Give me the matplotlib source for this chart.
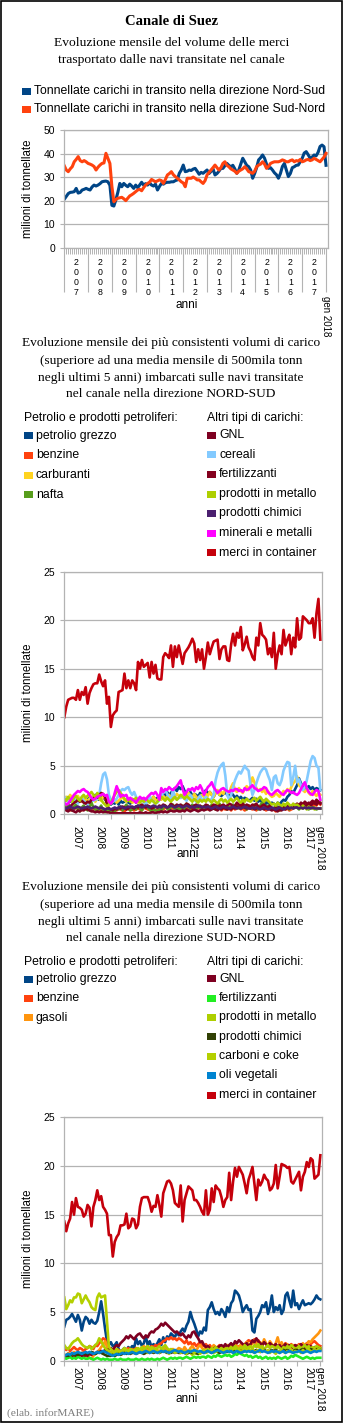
import matplotlib
matplotlib.use('Agg')
import matplotlib.pyplot as plt
from matplotlib.patches import Rectangle
from matplotlib import transforms

# ---------------- DATA ----------------
year_labels = ['2007', '2008', '2009', '2010', '2011', '2012', '2013', '2014', '2015', '2016', '2017']
last_label = 'gen 2018'

# Chart 1: total monthly volume (million tonnes)
tot_nord_sud = [20.6, 21.8, 23, 23.5, 23.6, 23.8, 25.2, 23.2, 23.5, 24.5, 24.8, 25.2,
                24.8, 24.5, 25.8, 26.6, 26.2, 26.6, 27.2, 28, 28.2, 28.3, 28, 26.5,
                18, 17.7, 20.3, 23.5, 27.3, 25.9, 27.3, 26.5, 25.9, 27, 26.2, 25.2,
                26.6, 25.5, 26.6, 27.8, 26.6, 27.2, 26.6, 27.6, 26.6, 26.2, 27, 24.5,
                26, 27.3, 27, 27.6, 27.8, 27.8, 28, 28, 28.5, 28.8, 31.6, 33,
                35.1, 32.3, 32.5, 33, 32.8, 33.4, 33.7, 32.5, 31.2, 32, 31.6, 32.3,
                33, 31.5, 32.4, 33.5, 30.9, 31.5, 32.5, 33.7, 33.7, 34.8, 35.8, 35,
                34.4, 35, 33.5, 31.6, 33, 35.5, 38, 36.5, 35, 34.4, 33, 29.5,
                31.5, 34, 37.3, 38.2, 39.4, 38, 35.5, 33.7, 34, 33, 31.8, 31,
                29.5, 31.5, 34.5, 35.8, 33, 30.2, 31.5, 34, 34.4, 35, 35.1, 36.5,
                38, 40.2, 40.8, 39.5, 38, 38.5, 39.4, 39, 40.5, 43, 43.6, 42.9, 35]
tot_sud_nord = [34.8, 33, 32.3, 33.5, 34.4, 36.5, 37.5, 38.7, 37, 36.5, 37, 36.5,
                35.8, 35.5, 35.1, 34.5, 33, 34.2, 35.1, 35.8, 36, 40.1, 38, 35.8,
                26, 19.5, 20.5, 21, 21.2, 21.4, 20.8, 20, 21, 22, 22.5, 23.1,
                23.8, 24.5, 24.8, 24.2, 25.5, 26.6, 27.3, 27.8, 29, 28.5, 28, 28.4,
                28.8, 28.5, 27.3, 29, 30.9, 31.5, 32.3, 31, 30.2, 29.5, 28.8, 28,
                27.5, 25.9, 29.5, 29.5, 29.5, 30, 29.5, 28.8, 28.8, 28, 27.3, 28.5,
                30.9, 32, 33, 34, 35.1, 34, 33, 34, 35.8, 36.5, 35, 34.4,
                33.5, 33, 32.5, 31.6, 32.5, 33, 33.5, 34.4, 33.5, 32.3, 32, 31.6,
                32.5, 34.4, 35.1, 35.5, 36.5, 35.5, 33.7, 34.5, 35.8, 36.2, 36.5, 36.5,
                36.5, 36.8, 37.3, 37, 36.5, 36.5, 37, 37.3, 36.5, 37, 36.8, 37.5,
                36.5, 36.8, 37.3, 37.5, 37, 37.3, 38, 37.5, 37, 36.5, 37.5, 38.5, 40.1]

# Chart 2: NORD-SUD cargo types
ns_petrolio = [1.5, 1.4, 1.6, 1.3, 1.5, 1.2, 1.4, 1.3, 1.5, 1.6, 1.4, 1.3,
               1.5, 1.7, 1.4, 1.8, 2.0, 1.6, 1.5, 1.8, 1.9, 1.5, 1.4, 1.2,
               1.0, 1.2, 1.1, 1.3, 1.0, 1.4, 1.2, 1.3, 1.5, 1.2, 1.1, 1.3,
               1.4, 1.2, 1.5, 1.3, 1.6, 1.4, 1.2, 1.5, 1.3, 1.6, 1.8, 1.5,
               1.7, 1.5, 1.9, 2.1, 1.8, 2.3, 2.0, 2.2, 2.5, 2.7, 2.4, 2.8,
               2.6, 2.9, 2.4, 2.2, 2.0, 2.3, 1.9, 2.1, 2.0, 1.8, 2.2, 2.0,
               2.2, 2.5, 2.1, 2.3, 2.0, 1.8, 2.2, 2.4, 2.0, 1.9, 2.1, 2.3,
               2.0, 1.8, 2.2, 2.0, 1.7, 1.9, 1.6, 1.8, 1.5, 1.7, 1.6, 1.4,
               1.5, 1.7, 1.4, 1.6, 1.3, 1.5, 1.2, 1.4, 1.1, 1.3, 1.0, 1.2,
               1.1, 0.9, 1.2, 1.0, 1.3, 1.5, 1.4, 1.8, 2.0, 2.4, 2.2, 2.6,
               3.0, 3.7, 3.2, 2.8, 2.6, 2.7, 2.9, 2.6, 2.8, 2.5, 2.7, 2.6, 2.5]
ns_benzine = [0.6, 0.5, 0.7, 0.4, 0.6, 0.5, 0.7, 0.6, 0.5, 0.4, 0.6, 0.5,
              0.5, 0.6, 0.4, 0.5, 0.7, 0.6, 0.5, 0.4, 0.6, 0.5, 0.3, 0.4,
              0.3, 0.4, 0.5, 0.4, 0.6, 0.5, 0.4, 0.3, 0.5, 0.6, 0.4, 0.5,
              0.4, 0.5, 0.6, 0.5, 0.4, 0.7, 0.6, 0.5, 0.4, 0.6, 0.5, 0.4,
              0.5, 0.6, 0.4, 0.5, 0.7, 0.6, 0.5, 0.8, 0.6, 0.5, 0.7, 0.6,
              0.6, 0.5, 0.7, 0.6, 0.8, 0.5, 0.6, 0.7, 0.5, 0.6, 0.8, 0.7,
              0.6, 0.7, 0.5, 0.6, 0.8, 0.7, 0.5, 0.6, 0.7, 0.4, 0.6, 0.5,
              0.5, 0.6, 0.4, 0.7, 0.5, 0.6, 0.8, 0.5, 0.6, 0.4, 0.5, 0.7,
              0.6, 0.5, 0.7, 0.4, 0.6, 0.5, 0.7, 0.6, 0.4, 0.5, 0.6, 0.5,
              0.5, 0.3, 0.6, 0.4, 0.5, 0.7, 0.5, 0.6, 0.4, 0.5, 0.6, 0.7,
              0.8, 0.6, 1.0, 0.7, 0.9, 0.8, 1.1, 0.9, 0.8, 1.0, 0.9, 1.2, 1.0]
ns_carburanti = [1.6, 1.8, 1.5, 2.0, 1.7, 1.4, 1.6, 1.9, 1.5, 1.3, 1.7, 1.5,
                 1.4, 1.6, 1.8, 1.5, 1.3, 1.7, 1.6, 1.4, 1.9, 1.7, 1.2, 1.0,
                 1.1, 1.3, 1.5, 1.2, 1.4, 1.6, 1.8, 1.5, 1.3, 1.6, 1.4, 1.2,
                 1.3, 1.5, 1.2, 1.4, 1.6, 1.3, 1.5, 1.7, 1.4, 1.6, 1.8, 1.5,
                 1.4, 1.7, 1.5, 1.9, 1.6, 1.8, 2.0, 1.7, 1.5, 1.8, 2.1, 1.9,
                 1.7, 2.0, 1.8, 1.6, 2.2, 1.9, 1.7, 2.1, 1.8, 1.6, 1.9, 2.0,
                 1.8, 2.1, 1.9, 2.3, 2.0, 1.8, 2.2, 2.5, 2.0, 2.3, 2.1, 2.6,
                 2.4, 2.2, 2.8, 3.2, 2.5, 2.3, 2.7, 2.4, 2.2, 2.6, 2.9, 2.5,
                 3.0, 3.8, 3.3, 2.7, 2.4, 2.6, 2.3, 2.5, 2.1, 2.4, 2.0, 1.8,
                 1.9, 2.2, 2.0, 1.8, 2.1, 2.4, 2.2, 2.6, 2.3, 2.8, 3.2, 3.4,
                 3.9, 3.0, 2.8, 2.5, 2.3, 2.6, 2.2, 2.0, 2.4, 2.1, 1.9, 2.2, 2.0]
ns_nafta = [0.9, 0.6, 1.1, 0.7, 0.4, 0.8, 1.0, 0.5, 0.3, 0.7, 0.9, 0.6,
            0.4, 0.8, 1.2, 0.7, 0.5, 0.3, 0.6, 0.9, 0.4, 0.2, 0.5, 0.3,
            0.2, 0.4, 0.3, 0.6, 0.5, 0.8, 0.4, 0.7, 1.0, 0.6, 0.4, 0.5,
            0.7, 0.5, 0.9, 0.6, 0.4, 0.8, 1.1, 0.7, 0.5, 0.3, 0.6, 0.4,
            0.3, 0.5, 0.4, 0.7, 0.9, 0.6, 0.4, 0.8, 1.0, 0.5, 0.7, 0.4,
            0.6, 0.9, 0.5, 1.1, 0.8, 0.6, 1.0, 0.7, 0.5, 0.9, 0.6, 0.8,
            0.7, 0.5, 0.9, 0.6, 1.0, 0.8, 0.5, 0.7, 1.1, 0.6, 0.9, 0.7,
            0.5, 0.8, 0.6, 1.0, 0.7, 0.9, 0.6, 0.8, 1.2, 0.7, 0.5, 0.9,
            0.8, 0.6, 1.0, 0.7, 0.5, 0.9, 1.2, 0.8, 0.6, 0.9, 0.7, 0.5,
            0.6, 0.9, 0.7, 0.4, 0.8, 0.6, 1.0, 0.7, 0.5, 0.8, 0.6, 0.9,
            0.7, 0.5, 0.8, 0.6, 0.9, 0.7, 0.5, 0.8, 0.6, 0.7, 0.5, 0.6, 0.6]
ns_gnl = [0.5, 0.4, 0.3, 0.5, 0.4, 0.3, 0.2, 0.4, 0.3, 0.5, 0.4, 0.6,
          0.5, 0.4, 0.3, 0.3, 0.2, 0.3, 0.2, 0.3, 0.2, 0.3, 0.2, 0.2,
          0.1, 0.1, 0.1, 0.1, 0.1, 0.1, 0.1, 0.1, 0.1, 0.1, 0.1, 0.1,
          0.1, 0.1, 0.1, 0.2, 0.1, 0.1, 0.2, 0.1, 0.1, 0.2, 0.2, 0.1,
          0.2, 0.2, 0.3, 0.2, 0.3, 0.2, 0.3, 0.4, 0.3, 0.3, 0.4, 0.3,
          0.3, 0.4, 0.3, 0.5, 0.4, 0.3, 0.4, 0.5, 0.4, 0.3, 0.4, 0.5,
          0.4, 0.5, 0.6, 0.4, 0.5, 0.6, 0.5, 0.4, 0.6, 0.5, 0.7, 0.6,
          0.5, 0.6, 0.5, 0.7, 0.6, 0.8, 0.7, 0.6, 0.8, 0.7, 0.6, 0.7,
          0.6, 0.7, 0.5, 0.6, 0.8, 0.7, 0.6, 0.5, 0.7, 0.6, 0.5, 0.4,
          0.5, 0.4, 0.3, 0.5, 0.4, 0.6, 0.5, 0.7, 0.6, 0.8, 0.7, 0.9,
          0.8, 1.0, 0.9, 1.1, 0.8, 1.0, 1.2, 0.9, 1.1, 1.3, 1.0, 1.3, 1.1]
ns_cereali = [1.8, 1.5, 1.2, 1.6, 1.4, 1.8, 1.3, 1.1, 1.5, 1.7, 1.4, 1.2,
              1.0, 1.3, 1.6, 1.4, 1.5, 1.6, 2.0, 3.2, 4.1, 4.3, 3.6, 2.0,
              1.5, 1.3, 1.4, 1.6, 2.0, 2.4, 2.6, 2.5, 2.7, 2.8, 2.3, 2.0,
              2.3, 1.8, 1.5, 1.3, 1.6, 1.2, 1.0, 1.4, 1.8, 1.5, 1.3, 1.1,
              1.2, 1.5, 1.8, 2.3, 2.6, 2.1, 1.7, 1.4, 2.5, 1.8, 1.5, 1.7,
              1.7, 1.9, 1.6, 1.4, 1.8, 2.0, 1.7, 1.5, 1.3, 1.6, 1.9, 1.5,
              1.5, 1.8, 1.6, 1.4, 1.6, 2.0, 3.5, 4.3, 4.8, 5.1, 5.3, 4.0,
              2.0, 1.5, 2.0, 2.8, 3.5, 4.0, 4.4, 4.2, 4.6, 5.0, 4.7, 4.5,
              3.0, 2.0, 2.5, 3.2, 3.8, 4.3, 4.6, 4.8, 4.6, 4.0, 3.5, 2.5,
              3.8, 4.0, 3.2, 3.0, 3.5, 4.5, 5.0, 5.4, 5.3, 3.0, 3.8, 5.0,
              3.3, 3.6, 3.0, 2.5, 2.8, 3.5, 4.5, 5.5, 6.0, 5.8, 5.0, 4.8, 2.5]
ns_fertilizzanti = [0.6, 0.5, 0.7, 0.8, 1.0, 1.2, 1.3, 1.5, 1.3, 1.4, 1.2, 1.1,
                    1.3, 1.2, 1.5, 1.6, 1.8, 1.7, 2.0, 2.2, 2.1, 1.8, 1.0, 0.6,
                    0.5, 0.4, 0.6, 0.5, 0.7, 0.6, 0.8, 0.7, 0.5, 0.6, 0.8, 0.7,
                    0.6, 0.8, 0.7, 0.9, 1.0, 0.8, 0.7, 0.9, 0.8, 0.6, 0.7, 0.8,
                    0.7, 0.9, 0.8, 1.0, 0.9, 0.7, 0.8, 1.1, 0.9, 0.8, 1.0, 0.9,
                    1.0, 0.8, 0.9, 1.1, 1.0, 0.8, 0.7, 0.9, 1.0, 0.8, 0.9, 0.7,
                    0.8, 1.0, 0.9, 0.7, 0.8, 1.0, 0.9, 1.1, 0.8, 0.9, 1.0, 0.8,
                    0.9, 1.1, 1.0, 0.8, 0.9, 1.2, 1.0, 0.9, 1.1, 0.8, 1.0, 0.9,
                    0.8, 1.0, 0.9, 1.1, 0.8, 0.7, 0.9, 1.0, 0.8, 0.7, 0.9, 0.6,
                    0.5, 0.7, 0.6, 0.8, 0.5, 0.7, 0.6, 0.9, 0.7, 0.8, 1.0, 0.9,
                    1.1, 0.9, 1.2, 1.0, 1.3, 1.1, 0.9, 1.2, 1.4, 1.1, 1.5, 1.3, 1.2]
ns_metallo = [1.6, 1.4, 1.8, 1.5, 1.3, 1.7, 1.9, 1.6, 1.4, 1.8, 2.0, 1.7,
              1.9, 2.1, 2.3, 2.0, 1.8, 2.2, 1.9, 1.5, 1.2, 1.0, 0.8, 1.0,
              1.2, 1.6, 2.0, 2.3, 2.5, 2.2, 1.9, 1.6, 1.4, 1.5, 1.3, 1.6,
              1.5, 1.7, 1.4, 1.2, 1.5, 1.3, 1.6, 1.4, 1.2, 1.5, 1.3, 1.1,
              1.3, 1.5, 1.8, 1.6, 1.4, 1.7, 1.5, 1.3, 1.6, 1.8, 1.5, 1.7,
              2.0, 1.8, 1.6, 1.9, 1.7, 1.5, 1.3, 1.6, 1.4, 1.2, 1.5, 1.3,
              1.5, 1.3, 1.6, 1.4, 1.2, 1.5, 1.3, 1.1, 1.4, 1.6, 1.3, 1.5,
              1.2, 1.4, 1.6, 1.3, 1.5, 1.7, 1.4, 1.2, 1.5, 1.3, 1.6, 1.4,
              1.3, 1.5, 1.7, 1.4, 1.6, 1.8, 1.5, 1.3, 1.6, 1.4, 1.2, 1.0,
              1.1, 0.9, 1.2, 1.0, 0.8, 1.1, 0.9, 1.2, 1.0, 0.8, 1.1, 0.9,
              1.0, 0.8, 0.6, 0.9, 0.7, 0.5, 0.8, 0.6, 0.7, 0.5, 0.6, 0.6, 0.6]
ns_chimici = [0.7, 0.6, 0.7, 0.8, 0.7, 0.6, 0.7, 0.8, 0.7, 0.6, 0.7, 0.7,
              0.8, 0.7, 0.6, 0.7, 0.8, 0.7, 0.6, 0.7, 0.6, 0.5, 0.6, 0.6,
              0.5, 0.6, 0.7, 0.6, 0.7, 0.8, 0.7, 0.6, 0.7, 0.8, 0.7, 0.8,
              0.7, 0.8, 0.9, 0.8, 0.7, 0.8, 0.9, 0.8, 0.7, 0.8, 0.9, 0.8,
              0.7, 0.8, 0.7, 0.9, 0.8, 0.7, 0.8, 0.9, 0.8, 0.7, 0.8, 0.9,
              0.8, 0.7, 0.8, 0.9, 0.8, 0.7, 0.8, 0.7, 0.8, 0.9, 0.8, 0.7,
              0.8, 0.7, 0.8, 0.7, 0.6, 0.7, 0.8, 0.7, 0.6, 0.7, 0.8, 0.7,
              0.7, 0.6, 0.7, 0.8, 0.7, 0.6, 0.7, 0.6, 0.7, 0.8, 0.7, 0.6,
              0.6, 0.7, 0.6, 0.7, 0.6, 0.5, 0.6, 0.7, 0.6, 0.5, 0.6, 0.7,
              0.6, 0.5, 0.6, 0.7, 0.6, 0.5, 0.6, 0.7, 0.6, 0.7, 0.6, 0.7,
              0.7, 0.6, 0.7, 0.6, 0.7, 0.6, 0.7, 0.6, 0.7, 0.6, 0.6, 0.6, 0.6]
ns_minerali = [1.2, 1.0, 1.1, 1.4, 1.7, 2.0, 2.2, 2.4, 2.3, 2.5, 2.6, 2.4,
               2.3, 2.0, 1.7, 1.5, 1.6, 1.8, 1.9, 2.0, 2.1, 1.9, 2.0, 1.3,
               1.1, 1.4, 2.2, 2.9, 2.4, 1.8, 2.0, 1.9, 2.0, 1.5, 1.7, 1.5,
               1.4, 1.2, 1.5, 1.8, 1.6, 1.7, 1.5, 1.8, 2.0, 2.2, 2.1, 2.3,
               2.0, 1.5, 2.7, 2.3, 2.6, 2.5, 2.8, 2.6, 2.5, 2.7, 2.9, 3.2,
               3.5, 2.6, 2.0, 2.3, 2.6, 2.5, 2.7, 2.4, 2.8, 2.6, 3.0, 2.6,
               2.0, 2.4, 2.8, 3.0, 3.3, 2.8, 2.5, 2.2, 2.4, 2.6, 2.7, 2.5,
               2.4, 2.3, 2.5, 2.4, 2.6, 2.6, 2.4, 2.5, 2.3, 2.7, 2.5, 2.6,
               2.8, 3.0, 2.7, 2.6, 2.4, 2.5, 2.6, 2.8, 2.7, 2.3, 2.1, 2.0,
               2.2, 2.4, 2.5, 2.3, 2.1, 2.0, 2.3, 2.5, 2.4, 2.2, 2.3, 2.1,
               2.0, 2.2, 2.6, 3.0, 3.3, 2.7, 2.3, 2.1, 2.0, 2.3, 2.5, 2.4, 1.5]
ns_container = [10.0, 11.1, 11.8, 11.9, 12.0, 12.0, 11.8, 12.8, 11.8, 12.6, 12.3, 13.1,
                11.4, 12.5, 13.0, 13.4, 13.5, 13.5, 14.4, 13.7, 13.2, 13.8, 11.4, 12.1,
                9.0, 10.2, 10.5, 10.7, 12.6, 12.7, 12.8, 14.5, 13.0, 13.8, 13.0, 13.8,
                13.5, 12.8, 15.7, 15.0, 15.9, 15.2, 15.4, 15.6, 14.1, 15.7, 14.5, 15.4,
                14.0, 13.9, 13.9, 16.2, 16.6, 16.4, 16.1, 17.4, 15.2, 17.3, 16.2, 17.4,
                16.5, 15.5, 16.6, 16.9, 17.2, 17.6, 18.1, 17.6, 15.7, 17.0, 15.9, 17.0,
                15.0, 16.2, 17.7, 16.5, 17.2, 17.8, 17.9, 18.0, 16.0, 17.0, 17.3, 17.3,
                15.9, 15.8, 17.5, 18.6, 17.4, 18.7, 18.2, 19.3, 16.9, 17.5, 18.3, 17.2,
                16.8, 16.2, 15.9, 18.2, 17.4, 19.7, 18.5, 18.3, 18.0, 16.5, 17.1, 16.2,
                18.7, 15.0, 16.5, 17.4, 16.5, 19.0, 17.4, 18.0, 18.5, 16.5, 18.2, 17.2,
                20.2, 18.0, 18.2, 20.4, 20.2, 20.0, 19.7, 19.7, 20.2, 18.2, 20.7, 22.2, 18.0]

# Chart 3: SUD-NORD cargo types
sn_petrolio = [3.5, 4.2, 4.3, 4.5, 4.8, 4.4, 4.0, 4.7, 4.2, 3.1, 4.0, 4.5,
               4.3, 3.8, 4.2, 3.9, 3.8, 4.1, 5.0, 6.1, 4.8, 3.3, 2.0, 1.6,
               1.9, 1.5, 1.6, 1.9, 1.2, 0.9, 1.1, 1.3, 1.0, 1.4, 1.2, 1.5,
               1.3, 2.3, 1.7, 2.0, 1.5, 1.8, 2.5, 1.6, 2.0, 1.4, 1.7, 1.5,
               1.8, 2.2, 1.6, 2.4, 1.9, 2.5, 2.3, 2.8, 2.6, 2.4, 2.9, 2.6,
               3.0, 3.3, 3.0, 3.6, 4.0, 5.0, 4.3, 3.8, 3.2, 2.5, 3.0, 2.8,
               3.4, 3.1, 5.2, 5.5, 6.0, 5.3, 4.8, 5.0, 4.7, 5.3, 5.0, 4.5,
               5.5, 5.0, 5.9, 6.2, 7.2, 7.0, 6.7, 6.0, 5.0, 5.4, 5.7, 5.2,
               5.3, 3.1, 2.9, 4.3, 4.6, 5.0, 5.7, 5.5, 6.0, 4.8, 5.5, 6.7,
               5.0, 5.5, 5.2, 5.7, 4.8, 5.2, 6.7, 7.0, 6.2, 5.5, 7.2, 5.7,
               5.9, 5.3, 5.8, 6.2, 5.7, 5.8, 5.9, 5.8, 6.0, 6.3, 6.7, 6.4, 6.3]
sn_benzine = [1.2, 1.1, 1.3, 1.0, 1.2, 1.4, 1.2, 1.1, 1.3, 1.2, 1.0, 1.2,
              1.3, 1.5, 1.4, 1.2, 1.6, 1.5, 1.8, 2.0, 2.3, 2.2, 1.5, 1.0,
              0.8, 0.9, 1.0, 1.2, 1.1, 0.9, 1.0, 1.2, 1.1, 1.3, 1.0, 1.2,
              1.1, 1.3, 1.2, 1.0, 1.3, 1.1, 1.4, 1.2, 1.3, 1.5, 1.4, 1.6,
              1.5, 1.7, 1.8, 2.0, 2.1, 2.3, 2.2, 2.4, 2.2, 2.3, 2.1, 2.3,
              2.2, 2.0, 1.8, 2.1, 1.7, 1.9, 1.6, 1.8, 1.5, 1.7, 1.9, 1.6,
              1.5, 1.7, 1.4, 1.6, 1.3, 1.5, 1.2, 1.4, 1.6, 1.3, 1.5, 1.2,
              1.3, 1.5, 1.2, 1.4, 1.6, 1.3, 1.5, 1.2, 1.4, 1.7, 1.9, 2.1,
              2.0, 1.8, 2.2, 1.9, 2.1, 1.8, 1.6, 1.9, 1.7, 1.5, 1.8, 1.6,
              1.5, 1.7, 1.4, 1.6, 1.3, 1.5, 1.8, 1.6, 1.4, 1.7, 1.5, 1.6,
              1.5, 1.7, 1.6, 1.4, 1.6, 1.8, 1.5, 1.7, 1.9, 2.0, 1.8, 1.6, 1.5]
sn_gasoli = [0.6, 0.5, 0.8, 0.7, 0.6, 0.9, 0.7, 0.5, 0.8, 0.6, 0.7, 0.5,
             0.4, 0.3, 0.2, 0.5, 0.7, 0.9, 1.1, 1.4, 1.6, 2.0, 1.5, 1.0,
             0.8, 0.6, 0.9, 1.1, 0.8, 0.7, 1.0, 0.9, 1.2, 1.0, 0.8, 1.1,
             1.0, 1.2, 0.9, 1.1, 1.3, 1.5, 1.2, 1.0, 1.3, 1.1, 0.9, 1.2,
             1.1, 0.9, 1.2, 1.0, 1.3, 1.1, 0.8, 1.0, 1.2, 0.9, 1.1, 1.3,
             1.2, 1.0, 1.4, 1.1, 0.9, 1.3, 1.5, 1.2, 1.0, 1.4, 1.6, 1.3,
             1.1, 1.4, 1.2, 1.0, 1.3, 1.6, 1.4, 1.1, 1.3, 1.5, 1.2, 1.4,
             1.6, 1.3, 1.5, 1.2, 1.8, 1.5, 1.3, 1.7, 1.4, 1.6, 1.9, 1.7,
             1.5, 1.8, 2.1, 1.7, 1.4, 1.9, 1.6, 2.2, 1.8, 1.5, 2.0, 1.7,
             1.4, 1.8, 2.4, 1.6, 1.9, 1.5, 1.3, 1.7, 1.5, 1.2, 1.6, 1.4,
             1.3, 1.6, 1.4, 1.8, 1.5, 1.7, 2.0, 1.9, 2.2, 2.4, 2.6, 2.8, 3.1]
sn_gnl = [0.3, 0.4, 0.3, 0.5, 0.4, 0.3, 0.5, 0.4, 0.6, 0.5, 0.4, 0.6,
          0.5, 0.7, 0.6, 0.8, 0.7, 0.9, 0.8, 1.0, 0.9, 1.1, 1.0, 1.2,
          1.3, 1.1, 1.4, 1.6, 1.5, 1.8, 2.0, 2.2, 2.5, 2.3, 2.6, 2.4,
          2.2, 2.5, 2.7, 2.8, 2.5, 2.3, 2.6, 2.4, 2.8, 3.0, 2.9, 3.2,
          3.3, 3.5, 3.8, 3.6, 3.9, 3.7, 3.5, 3.3, 3.1, 2.9, 3.0, 2.8,
          2.6, 2.8, 2.5, 2.3, 2.6, 2.4, 2.9, 3.0, 2.6, 2.3, 1.9, 2.0,
          1.6, 1.4, 1.5, 1.3, 1.1, 1.2, 1.4, 1.3, 1.5, 1.6, 1.4, 1.7,
          1.4, 1.6, 1.8, 1.5, 2.0, 1.8, 2.1, 1.9, 1.7, 1.6, 1.8, 1.5,
          1.7, 2.1, 1.9, 2.3, 2.0, 1.8, 1.6, 1.9, 1.7, 1.5, 1.8, 1.6,
          1.5, 1.7, 1.4, 1.6, 1.3, 1.5, 1.7, 1.4, 1.6, 1.5, 1.3, 1.6,
          1.5, 1.4, 1.7, 1.5, 1.3, 1.6, 1.4, 1.5, 1.3, 1.4, 1.2, 1.4, 1.3]
sn_fertilizzanti = [0.3, 0.2, 0.3, 0.4, 0.2, 0.3, 0.2, 0.4, 0.3, 0.2, 0.3, 0.2,
                    0.2, 0.3, 0.2, 0.1, 0.2, 0.3, 0.2, 0.1, 0.2, 0.1, 0.2, 0.1,
                    0.1, 0.1, 0.2, 0.1, 0.1, 0.2, 0.1, 0.1, 0.1, 0.2, 0.1, 0.1,
                    0.1, 0.2, 0.1, 0.1, 0.2, 0.1, 0.1, 0.2, 0.1, 0.2, 0.1, 0.1,
                    0.2, 0.1, 0.2, 0.3, 0.2, 0.1, 0.2, 0.3, 0.2, 0.3, 0.2, 0.3,
                    0.3, 0.2, 0.3, 0.4, 0.3, 0.2, 0.3, 0.4, 0.3, 0.4, 0.3, 0.4,
                    0.4, 0.3, 0.5, 0.4, 0.3, 0.5, 0.4, 0.6, 0.5, 0.4, 0.5, 0.6,
                    0.5, 0.6, 0.4, 0.5, 0.7, 0.6, 0.8, 0.7, 0.6, 0.5, 0.6, 0.4,
                    0.5, 0.3, 0.4, 0.5, 0.3, 0.4, 0.2, 0.3, 0.4, 0.2, 0.3, 0.2,
                    0.3, 0.2, 0.4, 0.3, 0.2, 0.3, 0.4, 0.2, 0.3, 0.5, 0.4, 0.6,
                    0.5, 0.4, 0.3, 0.2, 0.3, 0.4, 0.3, 0.2, 0.3, 0.2, 0.3, 0.3, 0.3]
sn_metallo = [1.6, 1.3, 1.2, 1.5, 1.8, 2.0, 2.1, 2.3, 2.0, 1.7, 1.5, 1.4,
              1.3, 1.5, 1.2, 1.4, 1.6, 1.8, 2.3, 2.0, 1.6, 1.3, 1.1, 1.0,
              0.8, 0.7, 0.6, 0.8, 0.9, 1.0, 0.8, 0.9, 1.1, 1.0, 1.2, 1.1,
              1.0, 1.2, 1.3, 1.1, 1.4, 1.2, 1.3, 1.5, 1.2, 1.4, 1.3, 1.2,
              1.3, 1.5, 1.2, 1.4, 1.6, 1.3, 1.1, 1.2, 1.0, 1.1, 0.9, 1.0,
              0.9, 0.8, 1.0, 0.7, 0.9, 0.8, 0.6, 0.8, 0.7, 0.9, 0.8, 1.0,
              1.1, 0.9, 1.2, 1.0, 1.3, 1.1, 1.4, 1.2, 1.0, 1.3, 1.1, 1.2,
              1.3, 1.1, 1.4, 1.2, 1.5, 1.3, 1.1, 1.4, 1.2, 1.6, 1.3, 1.4,
              1.5, 1.2, 1.6, 1.4, 1.7, 1.3, 1.5, 1.2, 1.4, 1.6, 1.3, 1.5,
              1.4, 1.2, 1.5, 1.3, 1.1, 1.4, 1.2, 1.5, 1.3, 1.6, 1.4, 1.2,
              1.3, 1.5, 1.2, 1.4, 1.6, 1.3, 1.5, 1.2, 1.4, 1.3, 1.5, 1.4, 1.3]
sn_chimici = [0.5, 0.6, 0.5, 0.6, 0.7, 0.6, 0.7, 0.6, 0.7, 0.8, 0.7, 0.8,
              0.7, 0.8, 0.9, 0.8, 0.7, 0.8, 0.9, 0.8, 0.7, 0.6, 0.5, 0.5,
              0.5, 0.6, 0.5, 0.6, 0.7, 0.6, 0.7, 0.8, 0.7, 0.8, 0.7, 0.8,
              0.8, 0.7, 0.8, 0.9, 0.8, 0.7, 0.8, 0.9, 0.8, 0.9, 0.8, 0.9,
              0.9, 0.8, 0.9, 1.0, 0.9, 0.8, 0.9, 0.8, 0.9, 0.8, 0.9, 0.8,
              0.8, 0.9, 0.8, 0.7, 0.8, 0.9, 0.8, 0.9, 0.8, 0.7, 0.8, 0.9,
              0.8, 0.9, 1.0, 0.9, 0.8, 0.9, 1.0, 0.9, 0.8, 0.9, 1.0, 0.9,
              0.9, 1.0, 0.9, 1.0, 1.1, 1.0, 0.9, 1.0, 0.9, 1.0, 1.1, 1.0,
              1.0, 0.9, 1.0, 1.1, 1.0, 0.9, 1.0, 1.1, 1.0, 0.9, 1.0, 1.1,
              1.0, 1.1, 1.0, 0.9, 1.0, 1.1, 1.0, 1.1, 1.0, 0.9, 1.0, 1.1,
              1.1, 1.0, 1.1, 1.2, 1.1, 1.0, 1.1, 1.2, 1.1, 1.0, 1.1, 1.2, 1.1]
sn_carboni = [6.5, 5.3, 5.7, 6.2, 6.0, 6.5, 6.5, 6.9, 6.8, 5.9, 6.3, 6.7,
              6.3, 6.0, 5.5, 5.3, 5.2, 6.5, 6.9, 6.5, 6.6, 6.7, 4.0, 1.4,
              1.2, 1.0, 0.8, 1.2, 1.0, 0.9, 1.1, 1.3, 1.0, 0.8, 1.2, 1.0,
              1.1, 1.0, 0.8, 1.2, 1.0, 0.9, 1.1, 0.8, 1.0, 1.2, 0.9, 1.1,
              1.0, 0.8, 1.1, 1.2, 1.0, 0.9, 0.7, 1.0, 1.1, 0.8, 0.9, 1.0,
              0.8, 1.0, 0.9, 0.7, 1.0, 1.1, 0.9, 0.8, 1.0, 0.9, 0.7, 0.9,
              1.0, 0.8, 0.9, 1.1, 1.0, 0.8, 0.9, 1.0, 1.1, 0.9, 1.0, 1.2,
              1.1, 0.9, 1.0, 1.2, 1.3, 1.0, 1.1, 0.9, 1.0, 1.2, 1.1, 1.3,
              1.0, 1.2, 0.8, 1.0, 1.1, 0.9, 1.2, 1.0, 0.9, 1.1, 0.8, 1.0,
              0.9, 0.7, 1.0, 0.8, 1.1, 0.9, 0.8, 1.0, 0.9, 1.1, 0.8, 1.0,
              0.9, 1.0, 0.8, 1.1, 0.9, 1.0, 1.2, 0.9, 1.0, 1.1, 1.0, 1.2, 1.1]
sn_oli = [0.5, 0.6, 0.7, 0.6, 0.8, 0.7, 0.8, 0.9, 0.8, 0.7, 0.8, 0.9,
          0.8, 0.9, 0.8, 0.7, 0.8, 0.9, 0.8, 0.9, 1.0, 0.9, 0.8, 0.7,
          0.6, 0.5, 0.6, 0.7, 0.6, 0.7, 0.8, 0.7, 0.8, 0.7, 0.8, 0.9,
          0.8, 0.7, 0.8, 0.9, 0.8, 0.9, 1.0, 0.9, 0.8, 0.9, 1.0, 0.9,
          0.8, 0.9, 1.0, 0.9, 1.0, 0.9, 0.8, 0.9, 1.0, 1.1, 1.0, 0.9,
          1.0, 0.9, 0.8, 0.9, 1.0, 0.9, 1.0, 1.1, 1.0, 0.9, 1.0, 0.9,
          0.8, 0.9, 1.0, 0.9, 0.8, 0.9, 1.0, 1.1, 1.0, 0.9, 0.8, 0.9,
          1.0, 0.9, 1.0, 0.8, 0.9, 1.0, 0.9, 0.8, 0.9, 1.0, 0.9, 1.0,
          0.9, 1.0, 0.8, 0.9, 1.0, 1.1, 0.9, 1.0, 0.9, 0.8, 0.9, 1.0,
          0.9, 1.0, 0.9, 0.8, 0.9, 1.0, 0.8, 0.9, 1.0, 0.9, 0.8, 0.9,
          0.9, 1.0, 0.9, 0.8, 0.9, 1.0, 0.9, 0.8, 0.9, 1.0, 0.9, 1.0, 1.0]
sn_container = [14.3, 13.3, 14.1, 14.6, 16.3, 15.0, 16.7, 15.8, 15.7, 15.5, 14.8, 15.1,
                16.0, 15.7, 13.8, 15.8, 16.5, 17.5, 16.5, 16.9, 15.8, 15.5, 15.1, 12.9,
                12.9, 10.7, 12.2, 12.7, 13.0, 13.9, 13.9, 14.0, 15.1, 13.6, 13.8, 14.6,
                14.5, 13.6, 14.0, 15.8, 16.7, 16.8, 16.8, 16.8, 16.2, 15.3, 15.9, 15.8,
                17.0, 16.0, 14.8, 17.2, 17.8, 18.4, 18.5, 18.2, 17.5, 16.2, 16.0, 15.8,
                18.0, 14.3, 16.5, 17.2, 17.9, 17.7, 17.5, 16.5, 16.5, 16.2, 15.8, 15.3,
                15.0, 17.5, 15.0, 15.5, 17.7, 16.3, 18.0, 17.7, 17.5, 16.8, 15.8, 16.5,
                16.8, 19.3, 16.5, 18.4, 19.8, 18.9, 19.9, 19.5, 19.1, 18.2, 17.2, 18.6,
                19.2, 19.9, 18.2, 16.5, 18.6, 18.0, 18.4, 19.1, 18.7, 18.5, 17.5, 17.7,
                18.2, 20.1, 17.7, 18.9, 20.2, 20.1, 20.0, 19.8, 19.9, 18.4, 18.2, 18.6,
                19.0, 19.4, 17.5, 18.9, 19.4, 20.4, 19.9, 20.8, 20.6, 18.7, 18.9, 19.1, 21.1]

# ---------------- FIGURE ----------------
W, H = 343, 1423
plt.rcParams['font.family'] = ['Liberation Sans', 'DejaVu Sans']
SERIF = ['Liberation Serif', 'DejaVu Serif']
GRID = '#b3b3b3'
fig = plt.figure(figsize=(W / 100, H / 100), dpi=100)


def fx(x):
    return x / W


def fy(y):
    return 1 - y / H


def ftext(x, y, s, **kw):
    kw.setdefault('va', 'center')
    fig.text(fx(x), fy(y), s, **kw)


def add_axes(left, top, right, bottom):
    return fig.add_axes([fx(left), fy(bottom), (right - left) / W, (bottom - top) / H])


def style(ax, ymax, ystep):
    ax.set_xlim(0, 133)
    ax.set_ylim(0, ymax)
    ax.set_yticks(range(0, ymax + 1, ystep))
    ax.grid(axis='y', color=GRID, lw=0.9)
    ax.set_axisbelow(True)
    for s in ax.spines.values():
        s.set_color(GRID)
        s.set_linewidth(0.9)
    ax.tick_params(axis='y', length=3, width=0.8, color=GRID, pad=3.6, labelsize=7.5)
    ax.set_xticks(range(0, 133, 12))
    ax.tick_params(axis='x', labelbottom=False, color=GRID, width=0.8)


def square(x, yc, color):
    fig.add_artist(Rectangle((fx(x), fy(yc + 3.5)), 9 / W, 7 / H, transform=fig.transFigure,
                             facecolor=color, edgecolor='none'))


def legend_item(xsq, yc, color, label):
    square(xsq, yc, color)
    ftext(xsq + 12, yc, label, fontsize=8.8, ha='left')


months = list(range(133))

# ---------------- Chart 1 ----------------
ftext(171.5, 21.5, 'Canale di Suez', fontsize=10.5, fontweight='bold', family=SERIF, ha='center')
ftext(171.5, 43.3, 'Evoluzione mensile del volume delle merci', fontsize=9.7, family=SERIF, ha='center')
ftext(171.5, 60, 'trasportato dalle navi transitate nel canale', fontsize=9.7, family=SERIF, ha='center')
legend_item(22.5, 91, '#004586', 'Tonnellate carichi in transito nella direzione Nord-Sud')
legend_item(22.5, 109, '#ff420e', 'Tonnellate carichi in transito nella direzione Sud-Nord')

ax1 = add_axes(64.3, 130, 328, 247.7)
style(ax1, 50, 10)
ax1.tick_params(axis='x', which='major', length=32, direction='out')
ax1.set_xticks([i for i in months if i % 12], minor=True)
ax1.tick_params(axis='x', which='minor', length=4.5, color=GRID, width=0.7)
ax1.plot(months, tot_nord_sud, color='#004586', lw=2.2, solid_joinstyle='round')
ax1.plot(months, tot_sud_nord, color='#ff420e', lw=2.2, solid_joinstyle='round')
tr1 = transforms.blended_transform_factory(ax1.transData, fig.transFigure)
for k, lab in enumerate(year_labels):
    fig.text(12 * k + 6, fy(258), '\n'.join(lab), transform=tr1, fontsize=6.3,
             ha='center', va='top', linespacing=1.12)
fig.text(132, fy(296), last_label, transform=tr1, fontsize=7, rotation=270, ha='center', va='top')
ftext(187, 305, 'anni', fontsize=8.5, ha='center')
ftext(28, 189, 'milioni di tonnellate', fontsize=8.3, rotation=90, ha='center')

# ---------------- Chart 2 ----------------
t2 = ['Evoluzione mensile dei più consistenti volumi di carico',
      '(superiore ad una media mensile di 500mila tonn',
      'negli ultimi 5 anni) imbarcati sulle navi transitate',
      'nel canale nella direzione NORD-SUD']
for yy, s in zip([343.3, 361, 377.7, 394.3], t2):
    ftext(171, yy, s, fontsize=9.6, family=SERIF, ha='center')

ftext(24, 418.5, 'Petrolio e prodotti petroliferi:', fontsize=8.8, ha='left')
ftext(207, 418.5, 'Altri tipi di carichi:', fontsize=8.8, ha='left')

ns_left = [('petrolio grezzo', ns_petrolio, '#004586'),
           ('benzine', ns_benzine, '#ff420e'),
           ('carburanti', ns_carburanti, '#ffd320'),
           ('nafta', ns_nafta, '#579d1c')]
ns_right = [('GNL', ns_gnl, '#7e0021'),
            ('cereali', ns_cereali, '#83caff'),
            ('fertilizzanti', ns_fertilizzanti, '#84001e'),
            ('prodotti in metallo', ns_metallo, '#aecf00'),
            ('prodotti chimici', ns_chimici, '#4b1f6f'),
            ('minerali e metalli', ns_minerali, '#ff00ff'),
            ('merci in container', ns_container, '#c5000b')]
for (lab, _, c), yy in zip(ns_left, [435.7, 455.5, 475, 494.5]):
    legend_item(24, yy, c, lab)
for (lab, _, c), yy in zip(ns_right, [435, 454.5, 474, 494, 513.5, 533, 552.5]):
    legend_item(207, yy, c, lab)

ax2 = add_axes(64.3, 571.7, 322.3, 814.3)
style(ax2, 25, 5)
ax2.tick_params(axis='x', which='major', length=3.6, direction='out')
for lab, vals, c in ns_left + ns_right:
    ax2.plot(months, vals, color=c, lw=1.9, solid_joinstyle='round')
tr2 = transforms.blended_transform_factory(ax2.transData, fig.transFigure)
for k, lab in enumerate(year_labels):
    fig.text(12 * k + 6, fy(826), lab, transform=tr2, fontsize=7.5, rotation=270, ha='center', va='top')
fig.text(132, fy(826), last_label, transform=tr2, fontsize=7.5, rotation=270, ha='center', va='top')
ftext(188, 854, 'anni', fontsize=8.5, ha='center')
ftext(28, 693, 'milioni di tonnellate', fontsize=8.3, rotation=90, ha='center')

# ---------------- Chart 3 ----------------
t3 = ['Evoluzione mensile dei più consistenti volumi di carico',
      '(superiore ad una media mensile di 500mila tonn',
      'negli ultimi 5 anni) imbarcati sulle navi transitate',
      'nel canale nella direzione SUD-NORD']
for yy, s in zip([887.3, 905, 921.7, 938.3], t3):
    ftext(171, yy, s, fontsize=9.6, family=SERIF, ha='center')

ftext(24, 961.7, 'Petrolio e prodotti petroliferi:', fontsize=8.8, ha='left')
ftext(207, 961.7, 'Altri tipi di carichi:', fontsize=8.8, ha='left')

sn_left = [('petrolio grezzo', sn_petrolio, '#004586'),
           ('benzine', sn_benzine, '#ff420e'),
           ('gasoli', sn_gasoli, '#ff950e')]
sn_right = [('GNL', sn_gnl, '#7e0021'),
            ('fertilizzanti', sn_fertilizzanti, '#22ee22'),
            ('prodotti in metallo', sn_metallo, '#aecf00'),
            ('prodotti chimici', sn_chimici, '#314004'),
            ('carboni e coke', sn_carboni, '#b4d000'),
            ('oli vegetali', sn_oli, '#0084d1'),
            ('merci in container', sn_container, '#c5000b')]
for (lab, _, c), yy in zip(sn_left, [979.3, 998.3, 1017.7]):
    legend_item(24, yy, c, lab)
for (lab, _, c), yy in zip(sn_right, [978.7, 998, 1017.3, 1036.7, 1056, 1075.3, 1095]):
    legend_item(207, yy, c, lab)

ax3 = add_axes(64.3, 1117.3, 322.3, 1360.7)
style(ax3, 25, 5)
ax3.tick_params(axis='x', which='major', length=3.6, direction='out')
for lab, vals, c in sn_left + sn_right:
    ax3.plot(months, vals, color=c, lw=1.9, solid_joinstyle='round')
tr3 = transforms.blended_transform_factory(ax3.transData, fig.transFigure)
for k, lab in enumerate(year_labels):
    fig.text(12 * k + 6, fy(1367), lab, transform=tr3, fontsize=7.5, rotation=270, ha='center', va='top')
fig.text(132, fy(1367), last_label, transform=tr3, fontsize=7.5, rotation=270, ha='center', va='top')
ftext(187, 1399, 'anni', fontsize=8.5, ha='center')
ftext(28, 1239, 'milioni di tonnellate', fontsize=8.3, rotation=90, ha='center')

ftext(7, 1413, '(elab. inforMARE)', fontsize=8.2, family=SERIF, color='#7a7a7a', ha='left')

# outer border
fig.add_artist(Rectangle((fx(1.2), fy(1421.8)), (W - 2.4) / W, (H - 2.4) / H,
                         transform=fig.transFigure, fill=False, edgecolor='black', lw=1.2))

fig.savefig('out.png', dpi=100)
